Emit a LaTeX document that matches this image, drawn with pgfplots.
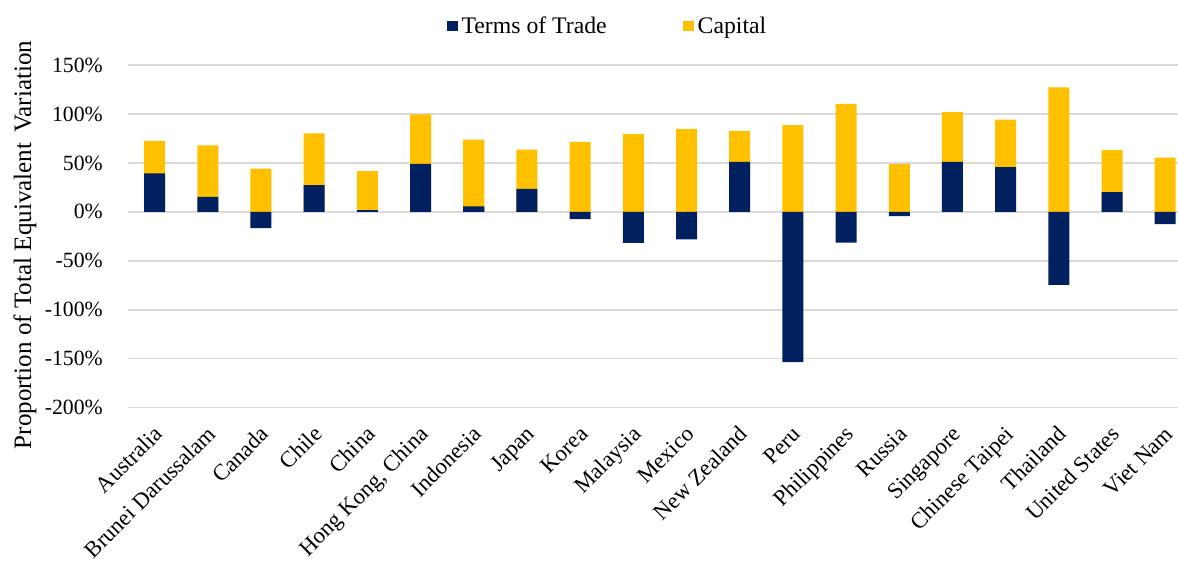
\documentclass[border=0pt]{standalone}
\usepackage{fontspec}
\setmainfont{Liberation Serif}
\usepackage{pgfplots}
\pgfplotsset{compat=1.18}
\usepackage{pgfplotstable}
\definecolor{totc}{RGB}{0,32,96}
\definecolor{capc}{RGB}{255,192,0}
\definecolor{gridc}{RGB}{217,217,217}

% tot = Terms of Trade (%), cap = Capital (%)
\pgfplotstableread{
x tot cap
0 39.2 33.2
1 15.3 52.7
2 -16.7 44.3
3 27.2 53.1
4 1.7 39.8
5 49.0 50.7
6 5.5 68.4
7 23.5 40.2
8 -7.5 71.4
9 -31.6 79.3
10 -28.2 84.4
11 51.0 31.7
12 -153.4 88.5
13 -31.3 110.2
14 -4.4 48.7
15 51.0 51.0
16 45.6 48.7
17 -74.5 127.2
18 20.1 42.9
19 -12.6 55.5
}\datatable

\begin{document}
\begin{tikzpicture}
\path[use as bounding box] (-96pt,305.775pt) rectangle (787.5pt,-117.975pt);
\begin{axis}[
  scale only axis,
  width=787.5pt, height=257.025pt,
  xmin=-0.5, xmax=19.24,
  ymin=-200, ymax=150,
  enlargelimits=false,
  axis line style={draw=none},
  major tick length=0pt,
  ytick={-200,-150,-100,-50,0,50,100,150},
  yticklabels={-200\%,-150\%,-100\%,-50\%,0\%,50\%,100\%,150\%},
  ymajorgrids,
  grid style={gridc, line width=1.1pt},
  yticklabel style={font=\fontsize{16.3}{19}\selectfont, anchor=east, inner sep=0pt, xshift=-18.75pt},
  xtick={0,...,19},
  xticklabels={Australia,Brunei Darussalam,Canada,Chile,China,{Hong Kong, China},Indonesia,Japan,Korea,Malaysia,Mexico,New Zealand,Peru,Philippines,Russia,Singapore,Chinese Taipei,Thailand,United States,Viet Nam},
  xticklabel style={font=\fontsize{17}{20}\selectfont, xshift=4.5pt, yshift=-18.5pt, rotate=45, anchor=east, inner sep=0pt, text height=0.68em, text depth=0pt},
  ylabel={Proportion of Total Equivalent\hspace{0.4em}Variation},
  ylabel style={font=\fontsize{18.8}{22}\selectfont, at={(axis description cs:-0.0981,0.4748)}, anchor=center},
  ybar, bar width=0.395, bar shift=0pt,
  legend columns=2,
  legend style={at={(axis description cs:0.3038,1.1138)}, anchor=west, draw=none, fill=none,
    font=\fontsize{17.8}{21}\selectfont, inner sep=0pt,
    nodes={inner sep=2.5pt},
    /tikz/every even column/.append style={column sep=55pt}},
  legend image code/.code={\fill[#1] (0pt,-4.1pt) rectangle (8.25pt,4.1pt);},
]
\addplot[fill=capc, draw=none, forget plot] table[x=x, y expr={\thisrow{cap}+max(\thisrow{tot},0)}] {\datatable};
\addplot[fill=totc, draw=none, forget plot] table[x=x, y=tot] {\datatable};
\addlegendimage{fill=totc, draw=none}
\addlegendentry{Terms of Trade}
\addlegendimage{fill=capc, draw=none}
\addlegendentry{Capital}
\end{axis}
\end{tikzpicture}
\end{document}
